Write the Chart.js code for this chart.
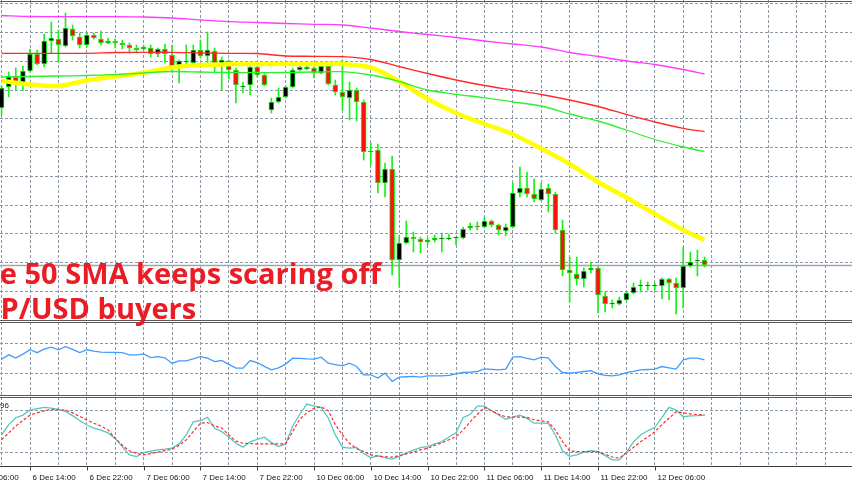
<!DOCTYPE html>
<html>
<head>
<meta charset="utf-8">
<script src="https://cdn.jsdelivr.net/npm/chart.js@4.4.1/dist/chart.umd.min.js"></script>
<style>
  html, body { margin: 0; padding: 0; background: #fff; }
  #wrap { position: relative; width: 852px; height: 485px; overflow: hidden; background: #fff; }
  canvas { position: absolute; left: 0; }
  .line { position: absolute; left: 0; width: 852px; height: 1px; background: #5a5a5a; z-index: 3; }
  .note { position: absolute; white-space: nowrap; font-family: "Open Sans", sans-serif; font-weight: 700;
          font-size: 29px; line-height: 29px; color: #ec1c24; z-index: 4; }
  #lbl96 { position: absolute; left: 0; top: 401px; font: 8px "Liberation Sans", Arial, sans-serif; color: #222; z-index: 4; }
</style>
</head>
<body>
<div id="wrap">
  <canvas id="mainChart" width="852" height="320" style="top:0"></canvas>
  <canvas id="rsiChart" width="852" height="73" style="top:322px"></canvas>
  <canvas id="stochChart" width="852" height="88" style="top:397px"></canvas>
  <div class="line" style="top:1px"></div>
  <div class="line" style="top:320px"></div>
  <div class="line" style="top:322px"></div>
  <div class="line" style="top:395px"></div>
  <div class="line" style="top:397px"></div>
  <div class="note" id="note1" style="top:258px"><span class="cut">Th</span>e 50 SMA keeps scaring off</div>
  <div class="note" id="note2" style="top:293px"><span class="cut">GB</span>P/USD buyers</div>
  <div id="lbl96">96</div>
</div>
<script>
// GBP/USD H1, 6 Dec 10:00 -> 12 Dec 13:00
const opens = [
  1.2696, 1.2717, 1.2727, 1.2721, 1.2733, 1.2750, 1.2740, 1.2763, 1.2765, 1.2758,
  1.2775, 1.2767, 1.2759, 1.2769, 1.2765, 1.2761, 1.2763, 1.2761, 1.2759, 1.2756,
  1.2755, 1.2756, 1.2750, 1.2755, 1.2749, 1.2739, 1.2742, 1.2741, 1.2754, 1.2748,
  1.2753, 1.2741, 1.2743, 1.2734, 1.2717, 1.2719, 1.2737, 1.2729, 1.2694, 1.2702,
  1.2707, 1.2717, 1.2734, 1.2735, 1.2736, 1.2731, 1.2738, 1.2719, 1.2712, 1.2706,
  1.2714, 1.2702, 1.2653, 1.2654, 1.2621, 1.2635, 1.2544, 1.2561, 1.2567, 1.2565,
  1.2562, 1.2564, 1.2565, 1.2565, 1.2566, 1.2566, 1.2576, 1.2578, 1.2577, 1.2583,
  1.2579, 1.2573, 1.2577, 1.2611, 1.2616, 1.2610, 1.2604, 1.2616, 1.2610, 1.2574,
  1.2534, 1.2530, 1.2525, 1.2534, 1.2536, 1.2508, 1.2500, 1.2500, 1.2504, 1.2511,
  1.2518, 1.2518, 1.2518, 1.2518, 1.2525, 1.2521, 1.2516, 1.2538, 1.2543, 1.2544
];
const highs = [
  1.2718, 1.2732, 1.2736, 1.2738, 1.2755, 1.2754, 1.2770, 1.2782, 1.2774, 1.2791,
  1.2779, 1.2771, 1.2771, 1.2771, 1.2773, 1.2766, 1.2765, 1.2764, 1.2761, 1.2759,
  1.2759, 1.2759, 1.2756, 1.2760, 1.2759, 1.2744, 1.2759, 1.2759, 1.2764, 1.2772,
  1.2756, 1.2747, 1.2744, 1.2736, 1.2722, 1.2738, 1.2739, 1.2730, 1.2706, 1.2716,
  1.2718, 1.2736, 1.2741, 1.2739, 1.2737, 1.2742, 1.2742, 1.2724, 1.2744, 1.2722,
  1.2716, 1.2704, 1.2661, 1.2660, 1.2641, 1.2648, 1.2569, 1.2583, 1.2572, 1.2567,
  1.2566, 1.2569, 1.2571, 1.2570, 1.2567, 1.2577, 1.2581, 1.2582, 1.2587, 1.2584,
  1.2580, 1.2580, 1.2621, 1.2637, 1.2632, 1.2625, 1.2621, 1.2620, 1.2612, 1.2584,
  1.2547, 1.2547, 1.2536, 1.2542, 1.2537, 1.2512, 1.2504, 1.2507, 1.2512, 1.2521,
  1.2524, 1.2522, 1.2521, 1.2526, 1.2526, 1.2526, 1.2557, 1.2552, 1.2554, 1.2547
];
const lows = [
  1.2689, 1.2707, 1.2714, 1.2713, 1.2732, 1.2739, 1.2737, 1.2751, 1.2742, 1.2757,
  1.2764, 1.2756, 1.2757, 1.2765, 1.2759, 1.2760, 1.2756, 1.2755, 1.2751, 1.2751,
  1.2754, 1.2747, 1.2747, 1.2741, 1.2732, 1.2721, 1.2740, 1.2739, 1.2746, 1.2741,
  1.2732, 1.2714, 1.2725, 1.2701, 1.2711, 1.2709, 1.2727, 1.2718, 1.2691, 1.2701,
  1.2706, 1.2716, 1.2733, 1.2734, 1.2726, 1.2730, 1.2719, 1.2709, 1.2694, 1.2684,
  1.2683, 1.2644, 1.2639, 1.2611, 1.2607, 1.2529, 1.2517, 1.2560, 1.2552, 1.2551,
  1.2559, 1.2562, 1.2552, 1.2564, 1.2559, 1.2565, 1.2574, 1.2574, 1.2576, 1.2577,
  1.2569, 1.2568, 1.2576, 1.2607, 1.2607, 1.2602, 1.2603, 1.2592, 1.2571, 1.2528,
  1.2502, 1.2519, 1.2517, 1.2531, 1.2491, 1.2492, 1.2496, 1.2499, 1.2503, 1.2510,
  1.2512, 1.2514, 1.2514, 1.2505, 1.2504, 1.2490, 1.2496, 1.2537, 1.2528, 1.2537
];
const closes = [
  1.2716, 1.2728, 1.2721, 1.2733, 1.2750, 1.2740, 1.2763, 1.2766, 1.2759, 1.2776,
  1.2768, 1.2759, 1.2769, 1.2766, 1.2761, 1.2763, 1.2761, 1.2759, 1.2756, 1.2754,
  1.2757, 1.2750, 1.2755, 1.2750, 1.2738, 1.2743, 1.2743, 1.2754, 1.2748, 1.2754,
  1.2741, 1.2744, 1.2734, 1.2719, 1.2718, 1.2737, 1.2729, 1.2719, 1.2702, 1.2707,
  1.2717, 1.2734, 1.2737, 1.2737, 1.2731, 1.2738, 1.2720, 1.2712, 1.2707, 1.2714,
  1.2702, 1.2652, 1.2652, 1.2621, 1.2635, 1.2544, 1.2561, 1.2567, 1.2565, 1.2562,
  1.2564, 1.2566, 1.2565, 1.2565, 1.2566, 1.2575, 1.2578, 1.2577, 1.2583, 1.2579,
  1.2574, 1.2577, 1.2611, 1.2616, 1.2610, 1.2605, 1.2615, 1.2610, 1.2574, 1.2534,
  1.2531, 1.2525, 1.2533, 1.2536, 1.2509, 1.2500, 1.2500, 1.2504, 1.2511, 1.2517,
  1.2518, 1.2518, 1.2518, 1.2525, 1.2521, 1.2516, 1.2538, 1.2542, 1.2543, 1.2539
];

// moving averages, read every 4th bar
const maIdx = [0, 4, 8, 12, 16, 20, 24, 28, 32, 36, 40, 44, 48, 52, 56, 60, 64, 68, 72, 76, 80, 84, 88, 92, 96, 99];
const sma50 = [1.27233, 1.27195, 1.2718, 1.27235, 1.27275, 1.27312, 1.27365, 1.2739, 1.27397, 1.274, 1.274, 1.274, 1.274,
  1.27365, 1.27225, 1.2705, 1.2691, 1.268, 1.26697, 1.26555, 1.264, 1.2622, 1.26065, 1.259, 1.2574, 1.2564];
const sma100 = [1.2727, 1.27275, 1.2728, 1.27285, 1.27295, 1.2731, 1.27325, 1.2732, 1.27315, 1.27315, 1.27315, 1.2732, 1.27323,
  1.2729, 1.27225, 1.2714, 1.27097, 1.27063, 1.2702, 1.2698, 1.269, 1.2683, 1.2674, 1.26645, 1.2657, 1.26523];
const sma150 = [1.27507, 1.27507, 1.27507, 1.27507, 1.27515, 1.27517, 1.27517, 1.2751, 1.27507, 1.27505, 1.2748, 1.27477, 1.27473,
  1.27445, 1.27375, 1.27305, 1.2724, 1.27185, 1.2714, 1.27095, 1.2704, 1.26975, 1.26895, 1.2682, 1.26757, 1.26723];
const sma200 = [1.27885, 1.27875, 1.27873, 1.27873, 1.27873, 1.2787, 1.2786, 1.2784, 1.27823, 1.27815, 1.27805, 1.27797, 1.2779,
  1.2776, 1.27725, 1.27695, 1.27665, 1.2763, 1.276, 1.2757, 1.27515, 1.27475, 1.2743, 1.27395, 1.27345, 1.273];

const rsi = [
  49, 55, 50.5, 56, 62, 58, 63, 65.5, 62, 66.3,
  62.5, 58, 62, 60, 58.6, 58.4, 58.4, 58, 55, 55,
  56.3, 51.3, 52.6, 51, 43.6, 46.8, 46.8, 49.5, 52.6, 50.5,
  45.8, 47.2, 42, 36.8, 36.8, 47.2, 44.5, 39.3, 34.5, 37.2,
  42.3, 50.5, 50.2, 49.5, 49.1, 51.8, 43.6, 41.7, 40, 43.6,
  39, 27.7, 27.7, 23.2, 30, 18.5, 24.5, 25, 25.4, 24.5,
  26.3, 26.3, 26.3, 27, 29, 30.8, 31.4, 32.2, 35.9, 35.2,
  34.5, 35.5, 51.8, 52.6, 50.2, 48.1, 51.8, 50.5, 39, 30.8,
  30, 31, 32.2, 33.5, 29, 27, 26.3, 27.7, 30.8, 32.5,
  34.5, 34.9, 35.5, 39, 37.2, 35.5, 48.1, 50.5, 50.5, 48.1
];
const stochMain = [
  45, 60, 70, 73.8, 81, 83, 85, 84, 82, 79,
  73, 66, 59.4, 55, 52, 48, 40, 28, 16, 13.7,
  19.5, 21.5, 23.5, 24.5, 25.8, 32, 45, 64, 65.6, 70.5,
  54.7, 49.8, 42, 33, 27.3, 35, 38.5, 41.7, 33.9, 28.1,
  32, 58, 75, 89.7, 86.8, 85, 70, 45, 27.3, 25.8,
  27, 18, 12, 14.7, 12, 10, 14, 19, 23, 26.5,
  28, 32, 35.3, 42, 48, 70, 74.9, 86.8, 86.8, 80,
  74, 67.6, 71, 73.8, 69, 62, 62, 61.9, 45, 22,
  14, 16, 20, 22.4, 21, 15, 9, 8.9, 20, 35,
  45, 51, 56, 70, 85, 81, 71.4, 72.5, 73, 73.8
];
const stochSignal = [
  38, 48, 58, 66, 73.8, 77, 80, 82, 81.5, 81,
  77, 72, 66.6, 62, 58, 52.2, 40, 30, 22, 18.5,
  16.2, 18, 20, 22.3, 24.4, 30, 37.8, 50, 62, 63,
  58, 55, 45, 36, 33, 32.5, 32, 32, 32, 32,
  32, 50, 68, 77, 83.5, 85.8, 80, 60, 45, 33,
  25, 21, 16, 14.5, 13.5, 12.8, 15, 17.5, 20, 23.4,
  25.8, 30, 33.5, 38, 42.5, 52, 64.2, 75, 85, 80,
  75, 71.4, 71, 70.8, 70.5, 67, 65.5, 64, 52, 35.3,
  22, 20.9, 20.9, 20.9, 20.9, 17, 13, 11.4, 19, 27,
  35.3, 42, 49.8, 60, 69.1, 78.6, 77, 75.5, 74.5, 73.8
];

const tickIdx = [-4, 4, 12, 20, 28, 36, 44, 52, 60, 68, 76, 84, 92];
const tickLabels = ["6 Dec 06:00", "6 Dec 14:00", "6 Dec 22:00", "7 Dec 06:00", "7 Dec 14:00", "7 Dec 22:00",
  "10 Dec 06:00", "10 Dec 14:00", "10 Dec 22:00", "11 Dec 06:00", "11 Dec 14:00", "11 Dec 22:00", "12 Dec 06:00"];

const X_MIN = -0.2254;
const X_MAX = 119.77;
const GRID_COLOR = "#8d97a5";
const BULL = "#000000";
const BEAR = "#ff1010";
const CANDLE_LINE = "#19f019";

function timeAxis() {
  return {
    type: "linear", min: X_MIN, max: X_MAX, offset: false,
    ticks: { display: false },
    grid: { color: GRID_COLOR, drawTicks: false, offset: false, lineWidth: 1 },
    border: { display: false, dash: [3, 2] },
    afterBuildTicks(scale) {
      const t = [];
      for (let v = 0; v <= X_MAX; v += 4) t.push({ value: v });
      scale.ticks = t;
    },
  };
}

function levelAxis(min, max, levels) {
  return {
    min, max,
    ticks: { display: false },
    grid: { color: GRID_COLOR, drawTicks: false, lineWidth: 1 },
    border: { display: false, dash: [3, 2] },
    afterBuildTicks(scale) {
      scale.ticks = levels.map((v) => ({ value: v }));
    },
  };
}

const baseOptions = {
  responsive: false,
  animation: false,
  devicePixelRatio: 1,
  events: [],
  plugins: { legend: { display: false }, tooltip: { enabled: false } },
};

// grey bid line at the last close
const bidLine = {
  id: "bidLine",
  beforeDatasetsDraw(chart) {
    const { ctx, chartArea, scales } = chart;
    const y = Math.round(scales.y.getPixelForValue(closes[closes.length - 1])) + 0.5;
    ctx.save();
    ctx.strokeStyle = "#9ea4ab";
    ctx.lineWidth = 1.5;
    ctx.beginPath();
    ctx.moveTo(chartArea.left, y);
    ctx.lineTo(chartArea.right, y);
    ctx.stroke();
    ctx.restore();
  },
};

// time labels under the last pane
const timeLabels = {
  id: "timeLabels",
  afterDraw(chart) {
    const { ctx, chartArea, scales } = chart;
    const y0 = chartArea.bottom + 0.5;
    ctx.save();
    ctx.strokeStyle = "#3c3c3c";
    ctx.lineWidth = 1;
    ctx.beginPath();
    ctx.moveTo(0, y0);
    ctx.lineTo(chart.width, y0);
    ctx.stroke();
    ctx.font = '8px "Liberation Sans", Arial, sans-serif';
    ctx.fillStyle = "#111";
    ctx.textBaseline = "alphabetic";
    tickIdx.forEach((idx, k) => {
      const x = Math.round(scales.x.getPixelForValue(idx)) + 0.5;
      ctx.beginPath();
      ctx.moveTo(x, y0);
      ctx.lineTo(x, y0 + 4);
      ctx.stroke();
      ctx.fillText(tickLabels[k], x + 2, y0 + 13);
    });
    ctx.restore();
  },
};

function maLine(values, color, width) {
  return {
    type: "line",
    data: values.map((v, k) => ({ x: maIdx[k], y: v })),
    borderColor: color,
    borderWidth: width,
    pointRadius: 0,
    tension: 0.3,
    order: 0,
  };
}

const priceGrid = [];
for (let v = 1.28; v > 1.2484; v -= 0.002875) priceGrid.push(v);

new Chart(document.getElementById("mainChart"), {
  type: "bar",
  data: {
    datasets: [
      {
        data: highs.map((h, i) => ({ x: i, y: [lows[i], h] })),
        backgroundColor: CANDLE_LINE,
        barThickness: 1,
        grouped: false,
        order: 3,
      },
      {
        data: opens.map((o, i) => ({ x: i, y: [o, closes[i]] })),
        backgroundColor: opens.map((o, i) => (closes[i] >= o ? BULL : BEAR)),
        borderColor: CANDLE_LINE,
        borderWidth: 1,
        borderSkipped: false,
        barThickness: 5,
        minBarLength: 1,
        grouped: false,
        order: 2,
      },
      maLine(sma200, "#ff3cff", 1.3),
      maLine(sma150, "#ff2a2a", 1.3),
      maLine(sma100, "#2ef02e", 1.3),
      maLine(sma50, "#ffff00", 4.5),
    ],
  },
  options: {
    ...baseOptions,
    layout: { padding: 0 },
    scales: {
      x: timeAxis(),
      y: levelAxis(1.2484, 1.2804, priceGrid),
    },
  },
  plugins: [bidLine],
});

new Chart(document.getElementById("rsiChart"), {
  type: "line",
  data: {
    datasets: [{
      data: rsi.map((v, i) => ({ x: i, y: v })),
      borderColor: "#3f9cff",
      borderWidth: 1.3,
      pointRadius: 0,
    }],
  },
  options: {
    ...baseOptions,
    layout: { padding: 0 },
    scales: { x: timeAxis(), y: levelAxis(0, 100, [30, 70]) },
  },
});

new Chart(document.getElementById("stochChart"), {
  type: "line",
  data: {
    datasets: [
      {
        data: stochSignal.map((v, i) => ({ x: i, y: v })),
        borderColor: "#ff2a2a",
        borderWidth: 1.2,
        borderDash: [3, 2],
        pointRadius: 0,
      },
      {
        data: stochMain.map((v, i) => ({ x: i, y: v })),
        borderColor: "#52c9bf",
        borderWidth: 1.3,
        pointRadius: 0,
      },
    ],
  },
  options: {
    ...baseOptions,
    layout: { padding: { left: 0, right: 0, top: 0, bottom: 19 } },
    scales: { x: timeAxis(), y: levelAxis(0, 100, [20, 80]) },
  },
  plugins: [timeLabels],
});

// the caption starts left of the picture, as in the screenshot
for (const id of ["note1", "note2"]) {
  const el = document.getElementById(id);
  el.style.left = -el.querySelector(".cut").offsetWidth + "px";
}
</script>
</body>
</html>
